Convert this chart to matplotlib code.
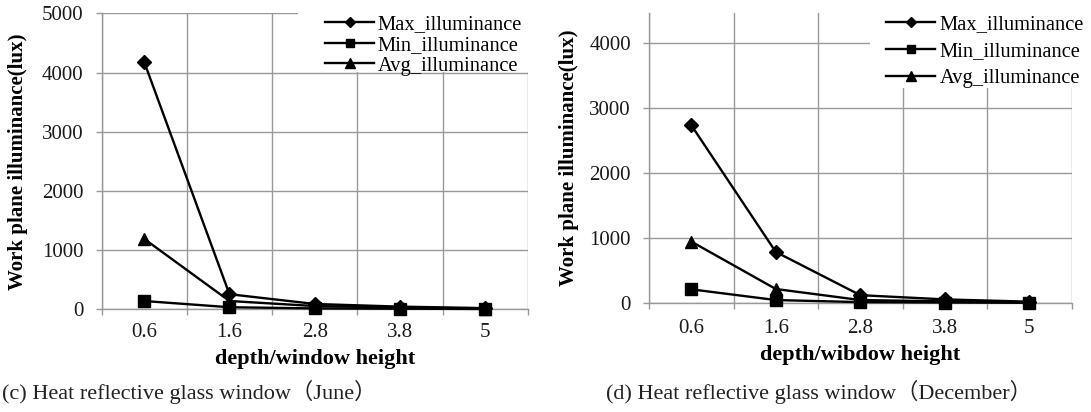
import matplotlib
matplotlib.use('Agg')
import matplotlib.pyplot as plt
from matplotlib.patches import Rectangle
import numpy as np

# ---------------- data ----------------
categories = ['0.6', '1.6', '2.8', '3.8', '5']
series_names = ['Max_illuminance', 'Min_illuminance', 'Avg_illuminance']

june_max = [4180, 255, 90, 45, 20]
june_min = [140, 35, 15, 10, 5]
june_avg = [1190, 140, 55, 30, 12]

dec_max = [2740, 790, 125, 60, 25]
dec_min = [215, 50, 18, 12, 8]
dec_avg = [950, 220, 50, 30, 15]

yticks_june = [0, 1000, 2000, 3000, 4000, 5000]
yticks_dec = [0, 1000, 2000, 3000, 4000]

xlabel_june = 'depth/window height'
xlabel_dec = 'depth/wibdow height'
ylabel = 'Work plane illuminance(lux)'
caption_june = '(c) Heat reflective glass window\uff08June\uff09'
caption_dec = '(d) Heat reflective glass window\uff08December\uff09'

# ---------------- style ----------------
W, H = 1091, 412
SERIF = ['Liberation Serif', 'DejaVu Serif']
CAPFONT = ['Liberation Serif', 'Noto Sans CJK SC', 'DejaVu Serif']
GRID = '#999999'
markers = ['D', 's', '^']
msizes = [7, 8.5, 9]

plt.rcParams['font.family'] = SERIF

fig = plt.figure(figsize=(W / 100, H / 100), dpi=100)
fig.patch.set_facecolor('white')


def px_axes(x0, x1, ytop, ybot):
    return fig.add_axes([x0 / W, 1 - ybot / H, (x1 - x0) / W, (ybot - ytop) / H])


def draw(ax, data, ymax, yticks, xlabel, ylab_x, xlab_y, xtick_pad):
    x = np.arange(len(categories))
    handles = []
    for vals, m, ms, name in zip(data, markers, msizes, series_names):
        h, = ax.plot(x, vals, color='black', lw=1.7, marker=m, ms=ms,
                     markerfacecolor='black', markeredgecolor='black',
                     zorder=3, clip_on=False, label=name)
        handles.append(h)
    ax.set_xlim(-0.5, len(categories) - 0.5)
    ax.set_ylim(0, ymax)
    ax.set_xticks(np.arange(len(categories) + 1) - 0.5)
    ax.set_xticklabels([])
    ax.set_xticks(x, minor=True)
    ax.set_xticklabels(categories, minor=True)
    ax.set_yticks(yticks)
    ax.set_yticklabels([str(v) for v in yticks])
    ax.tick_params(axis='x', which='major', length=4, width=1, color=GRID, direction='out')
    ax.tick_params(axis='x', which='minor', length=0, pad=xtick_pad, labelsize=15,
                   labelcolor='#1a1a1a')
    ax.tick_params(axis='y', which='major', length=4, width=1, color=GRID, direction='out',
                   pad=9, labelsize=15, labelcolor='#1a1a1a')
    ax.grid(True, which='major', color=GRID, lw=1)
    ax.set_axisbelow(True)
    for s in ['top', 'right']:
        ax.spines[s].set_visible(False)
    for s in ['left', 'bottom']:
        ax.spines[s].set_color(GRID)
        ax.spines[s].set_linewidth(1)
    ax.set_xlabel(xlabel, fontsize=16, fontweight='bold')
    ax.xaxis.set_label_coords(0.5, xlab_y)
    ax.set_ylabel(ylabel, fontsize=15, fontweight='bold')
    ax.yaxis.set_label_coords(ylab_x, 0.5)
    return handles


ax1 = px_axes(101.5, 528, 13.3, 309.3)
h1 = draw(ax1, [june_max, june_min, june_avg], 5000, yticks_june, xlabel_june,
          -0.172, (309.3 - 349) / 296.0, 9.7)

ax2 = px_axes(649, 1071.6, 12.7, 303.3)
h2 = draw(ax2, [dec_max, dec_min, dec_avg], 4470, yticks_dec, xlabel_dec,
          -0.166, (303.3 - 345) / 290.6, 11.5)

# white boxes behind legends (cover gridlines like the original)
fig.patches.append(Rectangle((298 / W, 1 - 72 / H), (540 - 298) / W, 72 / H,
                             transform=fig.transFigure, facecolor='white',
                             edgecolor='none', zorder=1))
fig.patches.append(Rectangle((870 / W, 1 - 88 / H), (W - 870) / W, 88 / H,
                             transform=fig.transFigure, facecolor='white',
                             edgecolor='none', zorder=1))

fig.legend(handles=h1, labels=series_names, loc='upper left',
           bbox_to_anchor=(325 / W, 1 - 15 / H), frameon=False, fontsize=14.8,
           handlelength=2.4, handletextpad=0.15, labelspacing=0.06,
           borderpad=0, borderaxespad=0, markerscale=0.75)
fig.legend(handles=h2, labels=series_names, loc='upper left',
           bbox_to_anchor=(886 / W, 1 - 15 / H), frameon=False, fontsize=14.8,
           handlelength=2.4, handletextpad=0.2, labelspacing=0.36,
           borderpad=0, borderaxespad=0, markerscale=0.75)

fig.text(2 / W, 1 - 392 / H, caption_june, fontsize=16, family=CAPFONT,
         ha='left', va='center', color='#222222')
fig.text(606 / W, 1 - 392 / H, caption_dec, fontsize=16, family=CAPFONT,
         ha='left', va='center', color='#222222')

fig.savefig('out.png', dpi=100, facecolor='white')
